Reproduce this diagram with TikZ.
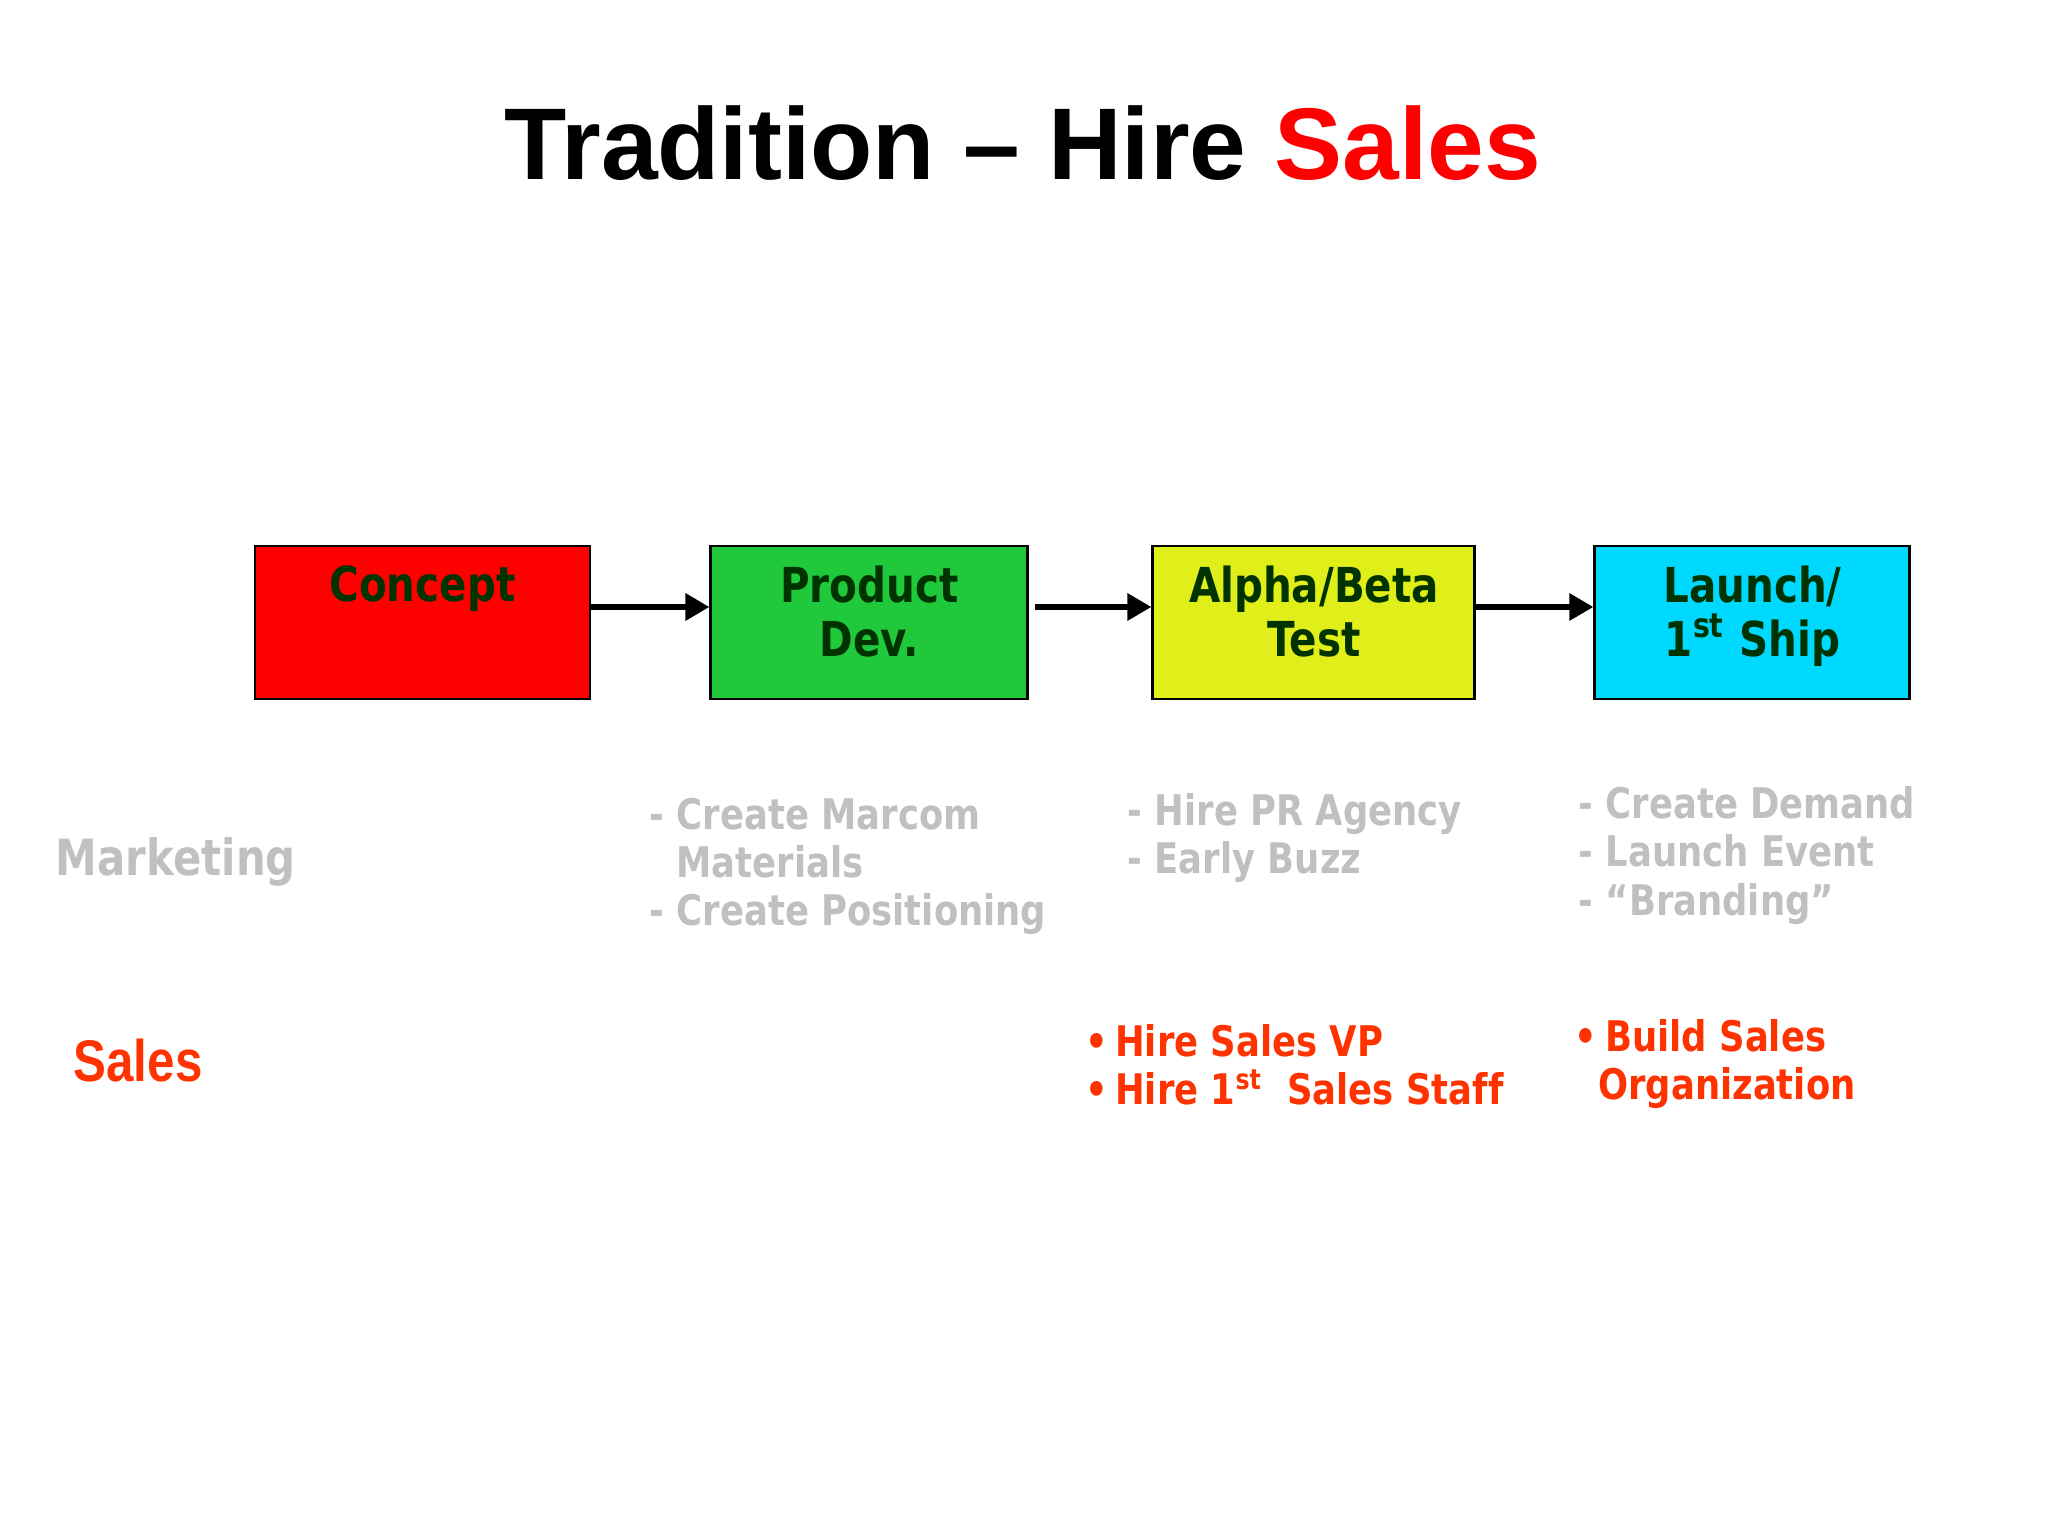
\documentclass[tikz,border=0pt]{standalone}
\usepackage{fontspec}
\setmainfont{DejaVu Sans}[FakeStretch=0.84]
\newfontfamily\headfont{Liberation Sans}
\newfontfamily\labelfont{Liberation Sans}[FakeStretch=0.84]
\usepackage{xcolor}
\usetikzlibrary{arrows.meta,positioning}

\definecolor{conceptred}{RGB}{255,0,0}
\definecolor{devgreen}{RGB}{32,201,60}
\definecolor{testyellow}{RGB}{224,238,26}
\definecolor{shipcyan}{RGB}{0,217,255}
\definecolor{stageink}{RGB}{0,51,0}
\definecolor{mktgray}{RGB}{192,192,192}
\definecolor{salesorange}{RGB}{255,51,0}

\tikzset{
    stage/.style={draw=black, line width=0.85pt, minimum height=1.53cm, inner sep=0pt},
    stagetext/.style={inner sep=0pt, align=center, text=stageink, font=\fontsize{13.7}{15.2}\selectfont\bfseries},
    flow/.style={-{Triangle[length=2.4mm, width=2.6mm]}, line width=1.7pt},
    mktnote/.style={anchor=north west, inner sep=0pt, align=left, text=mktgray, font=\fontsize{12}{13.7}\selectfont\bfseries},
    salesnote/.style={mktnote, text=salesorange},
}

\begin{document}
\begin{tikzpicture}
    \fill[white] (0,0) rectangle (20.48,-15.36);
    \useasboundingbox (0,0) rectangle (20.48,-15.36);

    \node[anchor=base, inner sep=0pt, font=\headfont\fontsize{29}{34}\selectfont\bfseries] (title) at (10.23,-1.80) {Tradition – Hire \textcolor{red}{Sales}};

    % the four stages
    \node[stage, fill=conceptred, minimum width=3.35cm] (concept) at (4.225,-6.225) {};
    \node[stage, fill=devgreen, minimum width=3.17cm, right=1.18cm of concept] (dev) {};
    \node[stage, fill=testyellow, minimum width=3.22cm, right=1.22cm of dev] (test) {};
    \node[stage, fill=shipcyan, minimum width=3.15cm, right=1.17cm of test] (ship) {};

    \node[stagetext, below=0.21cm of concept.north] (concepttxt) {Concept};
    \node[stagetext, below=0.21cm of dev.north] (devtxt) {Product\\Dev.};
    \node[stagetext, below=0.21cm of test.north] (testtxt) {Alpha/Beta\\Test};
    \node[stagetext, below=0.21cm of ship.north] (shiptxt) {Launch/\\1\textsuperscript{st} Ship};

    \draw[flow] ([yshift=0.155cm]concept.east) -- ([yshift=0.155cm]dev.west);
    \draw[flow, shorten <=0.06cm] ([yshift=0.155cm]dev.east) -- ([yshift=0.155cm]test.west);
    \draw[flow] ([yshift=0.155cm]test.east) -- ([yshift=0.155cm]ship.west);

    % rows
    \node[anchor=base west, inner sep=0pt, text=mktgray, font=\fontsize{14.2}{17}\selectfont\bfseries] (mkt) at (0.55,-8.75) {Marketing};
    \node[anchor=base west, inner sep=0pt, text=salesorange, font=\labelfont\fontsize{16.7}{20}\selectfont\bfseries] (sales) at (0.73,-10.81) {Sales};

    \node[mktnote] (devmkt) at (6.49,-7.97) {- Create Marcom\\\hphantom{- }Materials\\- Create Positioning};
    \node[mktnote] (testmkt) at (11.27,-7.93) {- Hire PR Agency\\- Early Buzz};
    \node[mktnote] (shipmkt) at (15.78,-7.86) {- Create Demand\\- Launch Event\\- “Branding”};

    \node[salesnote] (testsales) at (10.85,-10.24) {•\hspace{0.07cm}Hire Sales VP\\•\hspace{0.07cm}Hire 1\textsuperscript{st}~ Sales Staf\kern0pt f};
    \node[salesnote] (shipsales) at (15.74,-10.19) {•\hspace{0.08cm}Build Sales\\\hspace*{0.235cm}Organization};
\end{tikzpicture}
\end{document}
